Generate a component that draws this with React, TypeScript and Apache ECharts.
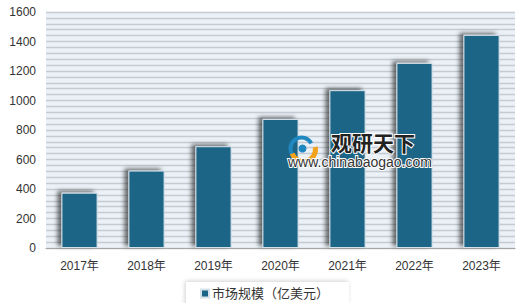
import React, { useEffect, useRef } from "react";
import * as echarts from "echarts";

const categories = ["2017年", "2018年", "2019年", "2020年", "2021年", "2022年", "2023年"];
const marketSize = [375, 525, 690, 875, 1070, 1255, 1445];
const seriesName = "市场规模（亿美元）";

export default function App() {
  const ref = useRef<HTMLDivElement>(null);
  useEffect(() => {
    if (!ref.current) return;
    const chart = echarts.init(ref.current, undefined, { renderer: "svg" });
    const font = "'Liberation Sans', 'Noto Sans CJK SC', sans-serif";
    chart.setOption({
      animation: false,
      backgroundColor: "#ffffff",
      textStyle: { fontFamily: font },
      grid: {
        left: 46,
        right: 5,
        top: 12,
        bottom: 55,
        show: true,
        backgroundColor: "#ebf1f6",
        borderWidth: 0,
      },
      legend: {
        data: [seriesName],
        left: 186,
        top: 282,
        icon: "rect",
        itemWidth: 8,
        itemHeight: 8,
        itemGap: 4,
        padding: [5, 20, 8, 14],
        backgroundColor: "#ffffff",
        shadowColor: "rgba(0,0,0,0.18)",
        shadowBlur: 4,
        shadowOffsetX: -1,
        shadowOffsetY: -1,
        textStyle: { fontSize: 13, color: "#333333", fontFamily: font, padding: [0, 0, 0, -2] },
      },
      xAxis: {
        type: "category",
        data: categories,
        axisLine: { show: true, lineStyle: { color: "#a6a6a6", width: 1 } },
        axisTick: { show: false },
        axisLabel: { fontSize: 12, color: "#333333", margin: 12, fontFamily: font },
      },
      yAxis: [
        {
          type: "value",
          min: 0,
          max: 1600,
          interval: 200,
          axisLine: { show: false },
          axisTick: { show: false },
          axisLabel: { fontSize: 12, color: "#333333", margin: 10, fontFamily: font, formatter: (v: number) => String(v) },
          splitLine: { show: false },
        },
        {
          type: "value",
          min: 0,
          max: 1600,
          interval: 40,
          show: true,
          axisLine: { show: false },
          axisTick: { show: false },
          axisLabel: { show: false },
          splitLine: { show: true, lineStyle: { color: "#c4cbd2", width: 1.3 } },
        },
      ],
      series: [
        {
          name: seriesName,
          type: "bar",
          data: marketSize,
          barWidth: "54%",
          itemStyle: {
            color: "#1b6586",
            borderColor: "#d6e2ea",
            borderWidth: 1,
            shadowColor: "rgba(0,0,0,0.55)",
            shadowBlur: 4,
            shadowOffsetX: -4,
            shadowOffsetY: -2,
          },
        },
      ],
      graphic: [
        {
          type: "group",
          left: 288,
          top: 135,
          z: 100,
          children: [
            { type: "arc", z: 100, shape: { cx: 15, cy: 12, r: 11, startAngle: 2.6, endAngle: 5.8 }, style: { stroke: "#1f88c0", lineWidth: 4, fill: "none" } },
            { type: "arc", z: 100, shape: { cx: 17, cy: 13, r: 12, startAngle: -0.2, endAngle: 2.8 }, style: { stroke: "#f3a21b", lineWidth: 5, fill: "none" } },
            { type: "circle", z: 100, shape: { cx: 16, cy: 12, r: 4 }, style: { fill: "#1f88c0" } },
          ],
        },
        {
          type: "text",
          left: 330,
          top: 130,
          z: 100,
          style: {
            text: "观研天下",
            fontSize: 21,
            fontWeight: "bold",
            fill: "#222222",
            stroke: "#ffffff",
            lineWidth: 2,
            fontFamily: "'Noto Sans CJK SC', sans-serif",
          },
        },
        {
          type: "text",
          left: 287,
          top: 154,
          z: 100,
          style: {
            text: "www.chinabaogao.com",
            fontSize: 14,
            fill: "#333333",
            stroke: "#ffffff",
            lineWidth: 2,
            fontFamily: "'Liberation Sans', sans-serif",
          },
        },
      ],
    });
    return () => chart.dispose();
  }, []);
  return <div ref={ref} style={{ width: 520, height: 303, position: "absolute", left: 0, top: 0 }} />;
}
